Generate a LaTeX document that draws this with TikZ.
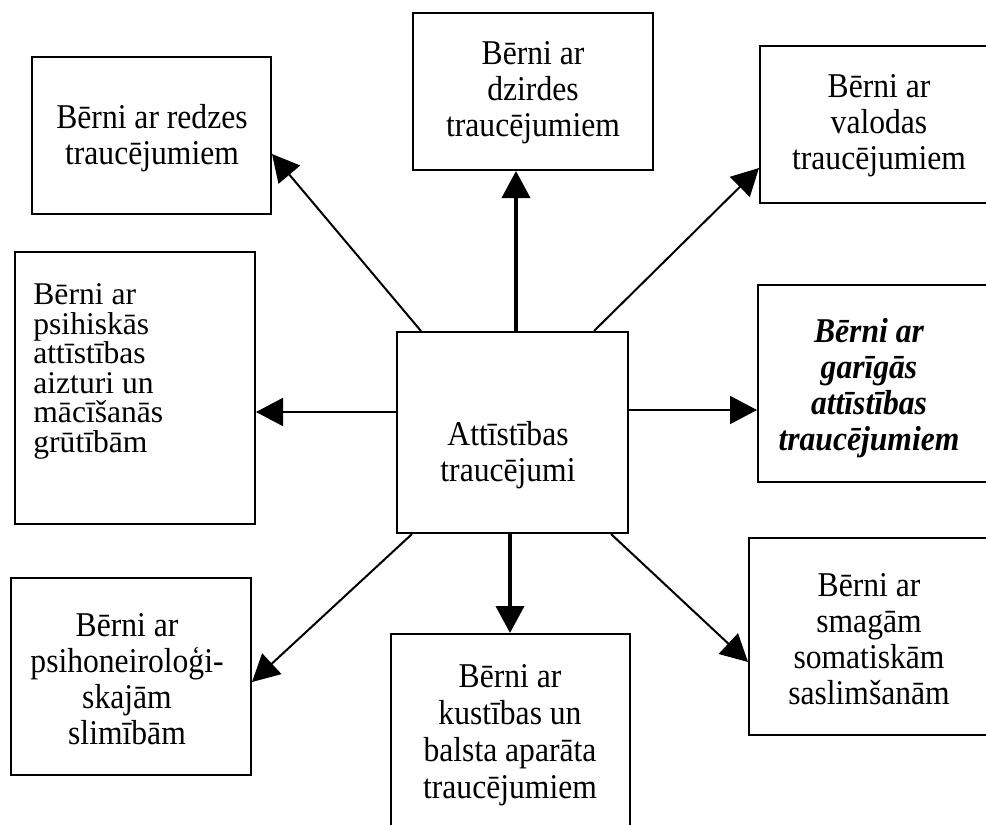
\documentclass[tikz,border=0pt]{standalone}
\usepackage{fontspec}
\setmainfont{Liberation Serif}
\usetikzlibrary{arrows.meta,calc}
\newcommand\nolsk{\lineskiplimit -20pt\relax}
\begin{document}
\begin{tikzpicture}[x=0.5pt,y=-0.5pt,
  box/.style={draw=black,line width=1pt,inner sep=0pt,fill=white},
  txt/.style={align=center,inner sep=0pt,yscale=1.1,font={\fontsize{15.8}{16.4}\selectfont\nolsk}},
  arr/.style={line width=1pt,-{Triangle[length=13.5pt,width=14pt]}},
  varr/.style={line width=1.9pt,-{Triangle[length=13.5pt,width=14pt]}}]
\clip (0,0) rectangle (986,825);
\fill[white] (0,0) rectangle (986,825);
% boxes
\node[box,minimum width=119.5pt,minimum height=78.5pt] (b1) at (151.5,135.5) {};
\node[box,minimum width=120pt,minimum height=78.5pt] (b2) at (533,91.5) {};
\node[box,minimum width=120pt,minimum height=78.5pt] (b3) at (880,124.5) {};
\node[box,minimum width=120pt,minimum height=136pt] (b4) at (135,388) {};
\node[box,minimum width=115.5pt,minimum height=100.5pt] (bc) at (512.5,432.5) {};
\node[box,minimum width=121pt,minimum height=98.5pt] (b6) at (879,383.5) {};
\node[box,minimum width=120pt,minimum height=98.5pt] (b7) at (131,676.5) {};
\node[box,minimum width=119.5pt,minimum height=113pt] (b8) at (510.5,747) {};
\node[box,minimum width=120.5pt,minimum height=98.5pt] (b9) at (869.5,636.5) {};
% texts
\node[txt] (t1) at (152,138.5) {Bērni ar redzes\\traucējumiem};
\node[txt] (t2) at (533,93) {Bērni ar\\dzirdes\\traucējumiem};
\node[txt] (t3) at (879,126) {Bērni ar\\valodas\\traucējumiem};
\node[txt,align=left,anchor=west,yscale=1/1.1,font={\fontsize{15.8}{14.75}\selectfont\nolsk}] (t4) at (33,371.5) {Bērni ar\\psihiskās\\attīstības\\aizturi un\\mācīšanās\\grūtībām};
\node[txt] (tc) at (508,455) {Attīstības\\traucējumi};
\node[txt,font={\fontsize{15.8}{16.4}\selectfont\nolsk\bfseries\itshape}] (t6) at (869,388.5) {Bērni ar\\garīgās\\attīstības\\traucējumiem};
\node[txt] (t7) at (127,679) {Bērni ar\\psihoneiroloģi-\\skajām\\slimībām};
\node[txt,font={\fontsize{15.8}{16.8}\selectfont\nolsk}] (t8) at (510,735) {Bērni ar\\kustības un\\balsta aparāta\\traucējumiem};
\node[txt] (t9) at (869,639) {Bērni ar\\smagām\\somatiskām\\saslimšanām};
% connectors
\draw[arr] ($(bc.north west)+(25,0)$) -- ($(b1.east)+(0,18.5)$);
\draw[varr] ($(bc.north west)+(120,0)$) -- ($(b2.south west)+(104,0)$);
\draw[arr] ($(bc.north west)+(198,0)$) -- ($(b3.west)+(0,43.5)$);
\draw[arr] ($(bc.west)+(0,-20.5)$) -- ($(b4.east)+(0,24)$);
\draw[arr] ($(bc.east)+(0,-22.5)$) -- ($(b6.west)+(0,26.5)$);
\draw[arr] ($(bc.south west)+(16,0)$) -- ($(b7.east)+(0,5.5)$);
\draw[varr] ($(bc.south west)+(114,0)$) -- ($(b8.north west)+(120,0)$);
\draw[arr] ($(bc.south west)+(215,0)$) -- ($(b9.west)+(0,25.5)$);
\end{tikzpicture}
\end{document}
